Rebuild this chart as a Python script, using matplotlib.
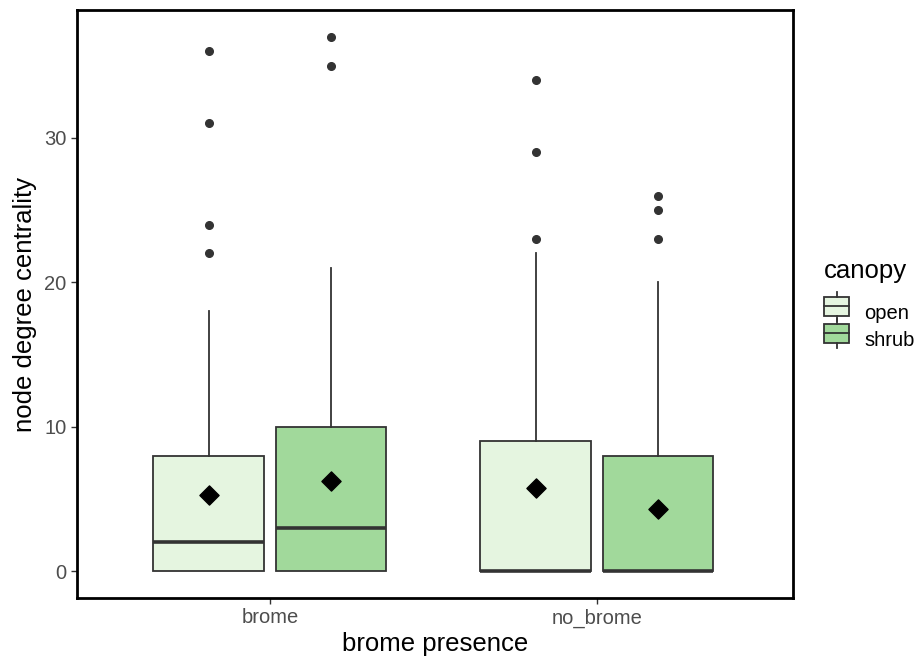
import numpy as np
import matplotlib
matplotlib.use("Agg")
import matplotlib.pyplot as plt
from matplotlib.legend_handler import HandlerBase
from matplotlib.patches import Rectangle, Patch
from matplotlib.lines import Line2D

plt.rcParams['font.family'] = ['Liberation Sans', 'DejaVu Sans']

groups = ['brome', 'no_brome']
canopy = ['open', 'shrub']
colors = {'open': '#E5F5E0', 'shrub': '#A1D99B'}

# per (group, canopy): q1, median, q3, whisker low, whisker high, mean, outliers
q1 = {('brome', 'open'): 0, ('brome', 'shrub'): 0, ('no_brome', 'open'): 0, ('no_brome', 'shrub'): 0}
med = {('brome', 'open'): 2, ('brome', 'shrub'): 3, ('no_brome', 'open'): 0, ('no_brome', 'shrub'): 0}
q3 = {('brome', 'open'): 8, ('brome', 'shrub'): 10, ('no_brome', 'open'): 9, ('no_brome', 'shrub'): 8}
wlo = {('brome', 'open'): 0, ('brome', 'shrub'): 0, ('no_brome', 'open'): 0, ('no_brome', 'shrub'): 0}
whi = {('brome', 'open'): 18, ('brome', 'shrub'): 21, ('no_brome', 'open'): 22, ('no_brome', 'shrub'): 20}
means = {('brome', 'open'): 5.3, ('brome', 'shrub'): 6.25, ('no_brome', 'open'): 5.75, ('no_brome', 'shrub'): 4.3}
outliers = {('brome', 'open'): [22, 24, 31, 36], ('brome', 'shrub'): [35, 37],
            ('no_brome', 'open'): [23, 29, 34], ('no_brome', 'shrub'): [23, 25, 26]}

edge = '#333333'
fig = plt.figure(figsize=(9.2, 6.58), dpi=100)
ax = fig.add_axes([77 / 920, 60 / 658, 716 / 920, 588 / 658])

dodge = 0.375
bw = 0.3375
for gi, g in enumerate(groups):
    for ci, c in enumerate(canopy):
        k = (g, c)
        pos = gi + 1 + (ci - 0.5) * dodge
        st = dict(q1=q1[k], med=med[k], q3=q3[k], whislo=wlo[k], whishi=whi[k],
                  fliers=outliers[k])
        ax.bxp([st], positions=[pos], widths=bw, patch_artist=True, showcaps=False,
               boxprops=dict(facecolor=colors[c], edgecolor=edge, linewidth=1.3),
               medianprops=dict(color=edge, linewidth=2.6),
               whiskerprops=dict(color=edge, linewidth=1.3),
               flierprops=dict(marker='o', markerfacecolor=edge, markeredgecolor=edge,
                               markersize=5.5))
        ax.scatter([pos], [means[k]], marker='D', s=95, color='black', zorder=5)

ax.set_xlim(0.41, 2.6)
ax.set_ylim(-1.85, 38.85)
ax.set_xticks([1, 2])
ax.set_xticklabels(groups)
ax.set_yticks([0, 10, 20, 30])
ax.tick_params(colors='#333333', labelcolor='#4D4D4D', labelsize=14.5, length=4, width=1)
for s in ax.spines.values():
    s.set_linewidth(2)
    s.set_color('black')
ax.set_xlabel('brome presence', fontsize=18.5, labelpad=3)
ax.set_ylabel('node degree centrality', fontsize=18.5, labelpad=5)


class BoxHandler(HandlerBase):
    def create_artists(self, legend, orig, xd, yd, width, height, fontsize, trans):
        fc = orig.get_facecolor()
        cx = xd + width / 2
        r = Rectangle((xd, yd), width, height,
                      facecolor=fc, edgecolor=edge, linewidth=1.3, transform=trans)
        m = Line2D([xd, xd + width], [yd + height / 2] * 2,
                   color=edge, linewidth=1.3, transform=trans)
        w1 = Line2D([cx, cx], [yd + height, yd + height * 1.25], color=edge,
                    linewidth=1.3, transform=trans)
        w2 = Line2D([cx, cx], [yd, yd - height * 0.25], color=edge,
                    linewidth=1.3, transform=trans)
        return [r, m, w1, w2]


handles = [Patch(facecolor=colors[c]) for c in canopy]
leg = fig.legend(handles, canopy, title='canopy', loc='upper left',
                 bbox_to_anchor=(824 / 920, (658 - 259) / 658), frameon=False, fontsize=14.5,
                 title_fontsize=18.5, handler_map={Patch: BoxHandler()},
                 handlelength=1.25, handleheight=1.1, labelspacing=0.32, handletextpad=0.75,
                 borderpad=0, borderaxespad=0, alignment='left')
leg._legend_box.sep = 14

fig.savefig('out.png', dpi=100)
